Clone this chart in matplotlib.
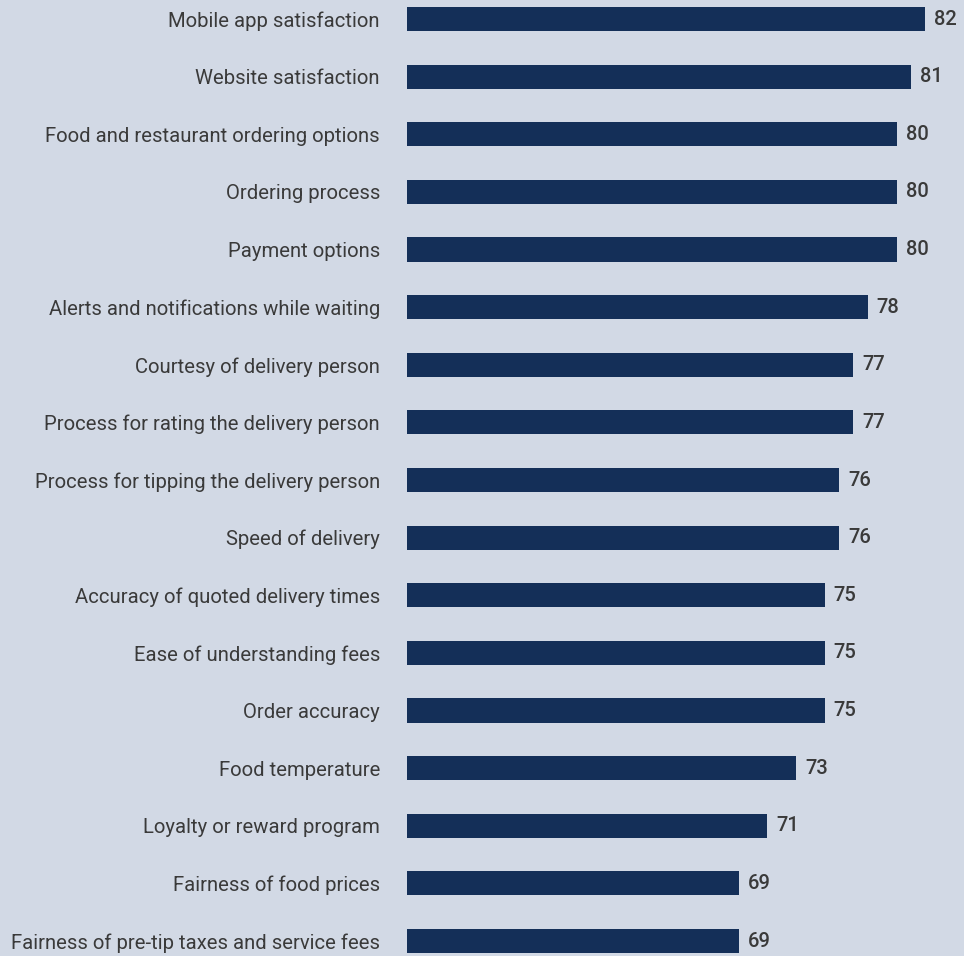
import matplotlib.pyplot as plt

# Categorias e valores (de cima para baixo)
categorias = [
    "Mobile app satisfaction",
    "Website satisfaction",
    "Food and restaurant ordering options",
    "Ordering process",
    "Payment options",
    "Alerts and notifications while waiting",
    "Courtesy of delivery person",
    "Process for rating the delivery person",
    "Process for tipping the delivery person",
    "Speed of delivery",
    "Accuracy of quoted delivery times",
    "Ease of understanding fees",
    "Order accuracy",
    "Food temperature",
    "Loyalty or reward program",
    "Fairness of food prices",
    "Fairness of pre-tip taxes and service fees",
]
valores = [82, 81, 80, 80, 80, 78, 77, 77, 76, 76, 75, 75, 75, 73, 71, 69, 69]

COR_FUNDO = '#d2d9e5'
COR_BARRA = '#142f58'
COR_TEXTO = '#3a3a3a'

plt.rcParams['font.family'] = ['Roboto', 'DejaVu Sans']

fig = plt.figure(figsize=(9.64, 9.56), dpi=100)
fig.patch.set_facecolor(COR_FUNDO)
ax = fig.add_axes([407 / 964, 0, 1 - 407 / 964, 1])
ax.set_facecolor(COR_FUNDO)

posicoes = list(range(len(categorias)))
ax.barh(posicoes, valores, height=0.42, color=COR_BARRA)

for y, v in zip(posicoes, valores):
    ax.annotate(str(v), xy=(v, y), xytext=(6.5, 0), textcoords='offset points',
                ha='left', va='center', fontsize=14.5, fontweight='medium',
                color=COR_TEXTO)

ax.set_xlim(45.9, 84.7)
ax.set_ylim(16.26, -0.33)
ax.set_yticks(posicoes)
ax.set_yticklabels(categorias, fontsize=14.6, color=COR_TEXTO)
ax.tick_params(axis='y', length=0, pad=19.5)
ax.set_xticks([])
for lado in ax.spines.values():
    lado.set_visible(False)

fig.savefig('out.png', dpi=100, facecolor=COR_FUNDO)
